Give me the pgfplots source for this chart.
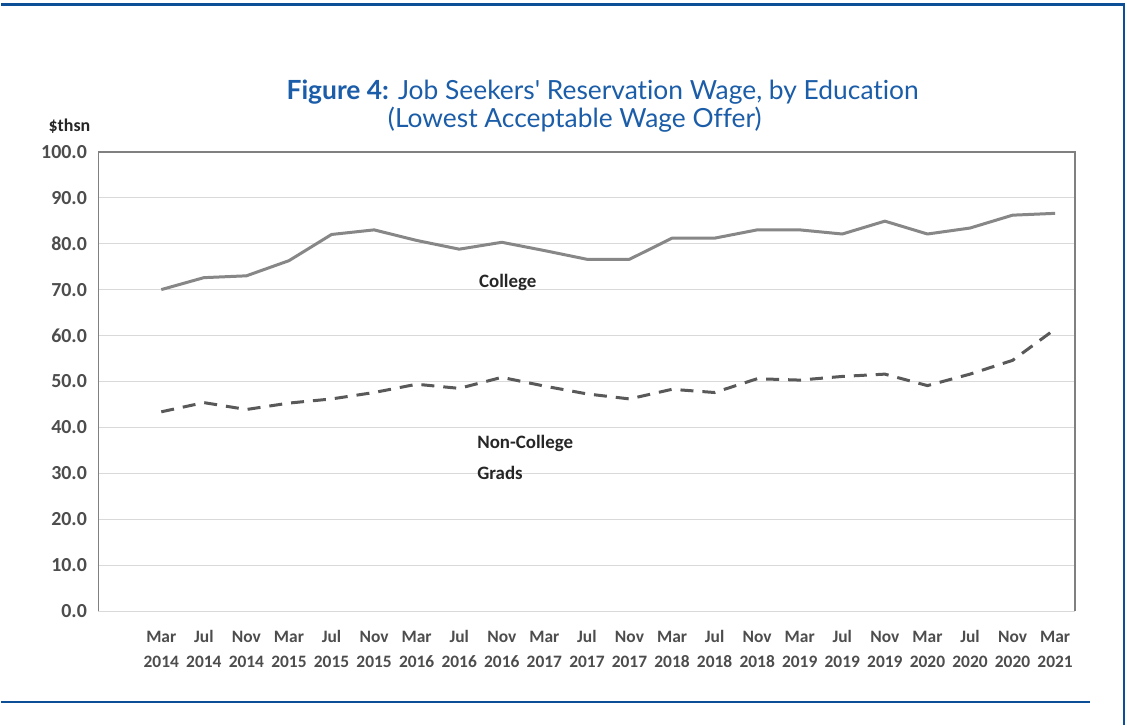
\documentclass[border=0pt]{standalone}
\usepackage{pgfplots}
\pgfplotsset{compat=1.18}
\usepackage{fontspec}
\setmainfont{Carlito}
\newfontfamily\titlefont[Ligatures={NoCommon,NoDiscretionary}]{Lato}
\definecolor{tblue}{HTML}{1B5DA8}
\definecolor{lblue}{HTML}{0D4F97}
\definecolor{tickgray}{HTML}{4D4D4D}
\definecolor{framegray}{HTML}{808080}
\definecolor{gridgray}{HTML}{D9D9D9}
\definecolor{collegegray}{HTML}{878787}
\definecolor{noncolgray}{HTML}{595959}
\newcommand\xl[2]{\strut#1\\\strut#2}

\pgfplotstableread{
x college noncollege
0 70.0 43.4
1 72.6 45.4
2 73.0 43.9
3 76.3 45.3
4 82.0 46.2
5 83.0 47.6
6 80.7 49.4
7 78.8 48.5
8 80.3 50.9
9 78.5 49.0
10 76.6 47.3
11 76.6 46.2
12 81.2 48.3
13 81.2 47.6
14 83.0 50.6
15 83.0 50.3
16 82.1 51.1
17 84.9 51.6
18 82.1 49.1
19 83.4 51.6
20 86.2 54.6
21 86.6 61.4
}\wagedata

\begin{document}
\begin{tikzpicture}[x=1bp,y=1bp]
\path[fill=white] (0,0) rectangle (1127,726);
\draw[lblue, line width=3bp] (0,721) -- (1124,721);
\draw[lblue, line width=2.5bp] (1124,722.5) -- (1124,0);
\draw[lblue, line width=2.5bp] (0,23) -- (1090,23);
\node[tblue, font=\titlefont\fontsize{26.5}{30}\selectfont, anchor=base] at (602,626) {\textbf{Figure 4:} Job Seekers' Reservation Wage, by Education};
\node[tblue, font=\titlefont\fontsize{26.5}{30}\selectfont, anchor=base] at (574,598) {(Lowest Acceptable Wage Offer)};
\node[font=\bfseries\fontsize{18}{20}\selectfont, text=black!85, anchor=base west, inner sep=0] at (47,594) {\$thsn};
\begin{axis}[
  at={(97bp,114bp)}, anchor=south west,
  scale only axis,
  width=978bp, height=460bp,
  xmin=-1.478, xmax=21.469,
  ymin=0, ymax=100,
  ytick={0,10,...,100},
  yticklabel={\pgfmathprintnumber[fixed,fixed zerofill,precision=1]{\tick}},
  xtick={0,...,21},
  xticklabels={\xl{Mar}{2014},\xl{Jul}{2014},\xl{Nov}{2014},\xl{Mar}{2015},\xl{Jul}{2015},\xl{Nov}{2015},\xl{Mar}{2016},\xl{Jul}{2016},\xl{Nov}{2016},\xl{Mar}{2017},\xl{Jul}{2017},\xl{Nov}{2017},\xl{Mar}{2018},\xl{Jul}{2018},\xl{Nov}{2018},\xl{Mar}{2019},\xl{Jul}{2019},\xl{Nov}{2019},\xl{Mar}{2020},\xl{Jul}{2020},\xl{Nov}{2020},\xl{Mar}{2021}},
  xticklabel style={align=center, font=\bfseries\fontsize{17.5}{25}\selectfont, text=tickgray, yshift=-14bp, inner sep=0},
  yticklabel style={font=\bfseries\fontsize{20}{22}\selectfont, text=tickgray, xshift=-8bp},
  /pgf/number format/assume math mode=true,
  major tick length=0pt,
  axis line style={draw=none},
  ymajorgrids, grid style={gridgray, line width=1.2bp},
  clip=false,
]
\draw[framegray, line width=1.5bp] (rel axis cs:0,0) -- (rel axis cs:0,1) -- (rel axis cs:1,1) -- (rel axis cs:1,0);
\addplot[collegegray, line width=3bp, line join=round] table[x=x, y=college] {\wagedata};
\addplot[noncolgray, line width=3bp, dash pattern=on 13bp off 9bp] table[x=x, y=noncollege] {\wagedata};
\node[font=\bfseries\fontsize{19}{22}\selectfont, text=black!85] at (axis cs:8.14,71.5) {College};
\node[font=\bfseries\fontsize{19}{22}\selectfont, text=black!85, anchor=west, inner sep=0] at (axis cs:7.42,36.5) {Non-College};
\node[font=\bfseries\fontsize{19}{22}\selectfont, text=black!85, anchor=west, inner sep=0] at (axis cs:7.42,30.2) {Grads};
\end{axis}
\end{tikzpicture}
\end{document}
